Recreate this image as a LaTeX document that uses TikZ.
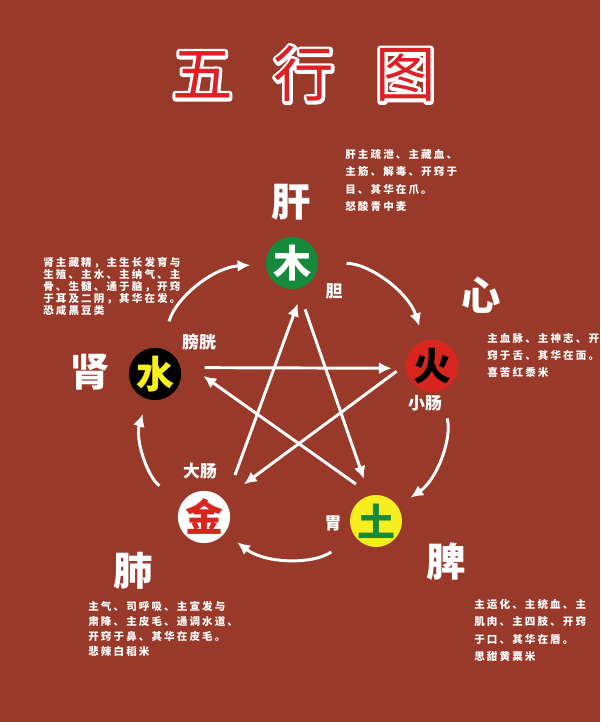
\documentclass[tikz,border=0pt]{standalone}
\usepackage{fontspec}
\usetikzlibrary{arrows.meta}
\newfontfamily\cjk{Noto Sans CJK SC}
\newfontfamily\cjksmall[LetterSpace=20]{Noto Sans CJK SC}
\definecolor{bg}{RGB}{153,57,42}
\definecolor{muGreen}{RGB}{22,138,58}
\definecolor{huoRed}{RGB}{216,38,30}
\definecolor{tuYellow}{RGB}{246,238,30}
\definecolor{titleRed}{RGB}{222,32,36}
% glyph outline only (stroked text), used under the red title
\newcommand\outlineText[1]{\special{pdf:literal direct 1 j 4.4 w 1 Tr}#1\special{pdf:literal direct 0 Tr}}
\begin{document}
\begin{tikzpicture}[x=0.025cm,y=0.025cm,
    element/.style={circle,minimum size=1.3cm,inner sep=0pt,font=\cjk\bfseries\fontsize{27}{27}\selectfont},
    organ/.style={text=white,font=\cjk\bfseries\fontsize{28}{28}\selectfont},
    fu/.style={text=white,font=\cjk\bfseries\fontsize{12}{12}\selectfont},
    note/.style={text=white,anchor=north west,align=left,inner sep=0pt,font=\cjksmall\bfseries\fontsize{7.5}{12.3}\selectfont},
    heading/.style={font=\cjk\fontsize{43}{43}\selectfont},
    flow/.style={white,line width=2.1pt,-{Latex[length=9pt,width=8.5pt]}}]
    \fill[bg] (0,0) rectangle (600,722);
    \useasboundingbox (0,0) rectangle (600,722);
    \clip (0,0) rectangle (600,722);
    % title
    \node[heading,text=white] (titleEdge) at (304,648) {\outlineText{五\hspace{0.68em}行\hspace{0.68em}图}};
    \node[heading,text=titleRed] (title) at (titleEdge) {五\hspace{0.68em}行\hspace{0.68em}图};
    % the five elements
    \node[element,fill=muGreen,text=white] (mu) at (292,459) {木};
    \node[element,fill=huoRed,text=black] (huo) at (432,356) {火};
    \node[element,fill=tuYellow,text=muGreen] (tu) at (376,201) {土};
    \node[element,fill=white,text=huoRed] (jin) at (204,205) {金};
    \node[element,fill=black,text=tuYellow] (shui) at (155,348) {水};
    % zang and fu
    \node[organ] (gan) at (291,520) {肝};
    \node[organ] (xin) at (481,427) {心};
    \node[organ] (pi) at (446,160) {脾};
    \node[organ] (fei) at (133,151) {肺};
    \node[organ] (shen) at (90,350) {肾};
    \node[fu] (dan) at (334,431) {胆};
    \node[fu] (xiaochang) at (425,319) {小肠};
    \node[fu] (wei) at (333,199) {胃};
    \node[fu] (dachang) at (200,251) {大肠};
    \node[fu] (pangguang) at (199,380) {膀胱};
    % notes
    \node[note] (ganNote) at (345,573) {肝主疏泄、主藏血、\\主筋、解毒、开窍于\\目、其华在爪。\\怒酸青中麦};
    \node[note,font=\cjksmall\bfseries\fontsize{7.5}{8.6}\selectfont] (shenNote) at (43,465)
        {肾主藏精，主生长发育与\\生殖、主水、主纳气、主\\骨、生髓、通于脑，开窍\\于耳及二阴，其华在发。\\恐咸黑豆类};
    \node[note] (xinNote) at (487,389) {主血脉、主神志、开\\窍于舌、其华在面。\\喜苦红黍米};
    \node[note,font=\cjksmall\bfseries\fontsize{7.5}{10.6}\selectfont] (feiNote) at (88,121)
        {主气、司呼吸、主宣发与\\肃降、主皮毛、通调水道、\\开窍于鼻、其华在皮毛。\\悲辣白稻米};
    \node[note] (piNote) at (474,123) {主运化、主统血、主\\肌肉、主四肢、开窍\\于口、其华在唇。\\思甜黄粟米};
    % generating cycle
    \foreach \a/\b in {shui/mu,mu/huo,huo/tu,tu/jin,jin/shui}
        \draw[flow,shorten <=20pt,shorten >=11pt] (\a) to[bend left=36] (\b);
    % controlling star
    \draw[flow,shorten <=17pt,shorten >=10pt] (shui.14) -- (huo.185);
    \draw[flow,shorten <=8pt,shorten >=18pt] (huo.177) -- (jin.42);
    \draw[flow,shorten <=20pt,shorten >=13pt] (jin.36) -- (mu.-63);
    \draw[flow,shorten <=15.5pt,shorten >=12.5pt] (mu.-77) -- (tu.104);
    \draw[flow,shorten <=13.5pt,shorten >=29pt] (tu.100) -- (shui.55);
\end{tikzpicture}
\end{document}
